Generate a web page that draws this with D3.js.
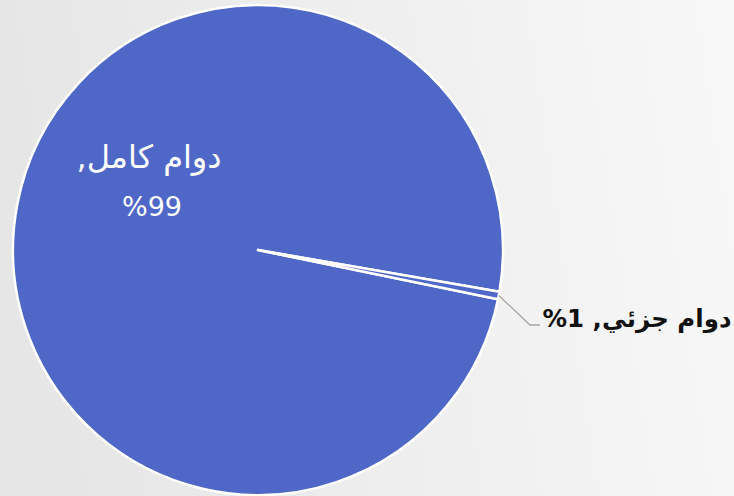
<!DOCTYPE html>
<html>
<head>
<meta charset="utf-8">
<script src="https://cdn.jsdelivr.net/npm/d3@7"></script>
<style>
  html, body { margin: 0; padding: 0; }
  body { width: 734px; height: 496px; overflow: hidden; }
  svg { display: block; }
</style>
</head>
<body>
<svg id="chart" width="734" height="496"></svg>
<script>
// ---- data ----
const categories = ["دوام كامل", "دوام جزئي"];
const values = [99.5, 0.5];
const shownPercents = [99, 1];

// ---- layout ----
const W = 734, H = 496;
const cx = 258, cy = 250, R = 245;
const deg = Math.PI / 180;
const startDeg = 101.6;
const ALM = "\u061C"; // Arabic letter mark, keeps Excel-like bidi of the percent

const svg = d3.select("#chart");
const defs = svg.append("defs");
const grad = defs.append("linearGradient").attr("id", "bg")
  .attr("x1", "0").attr("y1", "0.1").attr("x2", "1").attr("y2", "0");
grad.append("stop").attr("offset", "0").attr("stop-color", "#e6e6e6");
grad.append("stop").attr("offset", "1").attr("stop-color", "#f8f8f8");
svg.append("rect").attr("width", W).attr("height", H).attr("fill", "url(#bg)");

const pie = d3.pie().sort(null).value(d => d)
  .startAngle(startDeg * deg).endAngle((startDeg + 360) * deg);
const arcs = pie(values);
const arc = d3.arc().innerRadius(0).outerRadius(R);

const g = svg.append("g").attr("transform", `translate(${cx},${cy})`);
g.selectAll("path").data(arcs).enter().append("path")
  .attr("d", arc)
  .attr("fill", "#4f67c7")
  .attr("stroke", "#ffffff")
  .attr("stroke-width", 2.5)
  .attr("stroke-linejoin", "round");

// big label inside
const fontFam = "'DejaVu Sans', 'Noto Sans', sans-serif";
const big = g.append("text")
  .attr("direction", "rtl")
  .attr("text-anchor", "middle")
  .attr("fill", "#ffffff")
  .attr("font-family", fontFam)
  .attr("font-size", 32);
big.append("tspan").attr("x", 149 - cx).attr("y", 168 - cy).text(categories[0] + ",");
big.append("tspan").attr("x", 152 - cx).attr("y", 216 - cy)
  .attr("font-size", 27).text(ALM + shownPercents[0] + "%");

// small slice label with leader
const a1 = arcs[1];
const mid = (a1.startAngle + a1.endAngle) / 2;
const px = Math.sin(mid) * R, py = -Math.cos(mid) * R;
g.append("polyline")
  .attr("points", [[px, py], [530 - cx, 325 - cy], [540 - cx, 325 - cy]].map(p => p.join(",")).join(" "))
  .attr("fill", "none")
  .attr("stroke", "#a6a6a6")
  .attr("stroke-width", 1.3);

g.append("text")
  .attr("direction", "rtl")
  .attr("text-anchor", "middle")
  .attr("x", 637 - cx).attr("y", 327 - cy)
  .attr("fill", "#111111")
  .attr("font-family", fontFam)
  .attr("font-weight", "bold")
  .attr("font-size", 24.5)
  .text(categories[1] + ", " + shownPercents[1] + "%");
</script>
</body>
</html>
